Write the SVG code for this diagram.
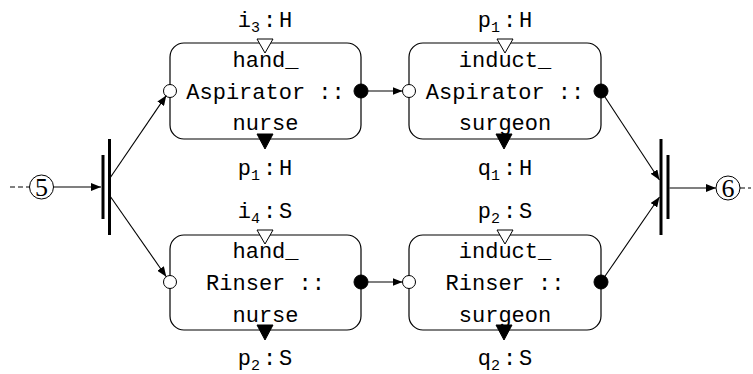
<svg xmlns="http://www.w3.org/2000/svg" width="753" height="374" viewBox="0 0 753 374">
  <defs>
    <style>
      .box { fill: #fff; stroke: #000; stroke-width: 1.2; }
      .tt { font-family: "Liberation Mono", "DejaVu Sans Mono", monospace; font-size: 22px; fill: #000; text-anchor: middle; }
      .sub { font-size: 15px; }
      .num { font-family: "Liberation Serif", "DejaVu Serif", serif; font-size: 26px; fill: #000; text-anchor: middle; }
      .edge { fill: none; stroke: #000; stroke-width: 1.1; }
      .dash { fill: none; stroke: #000; stroke-width: 1; stroke-dasharray: 5 3; }
      .bar { stroke: #000; stroke-width: 3; }
      .open { fill: #fff; stroke: #000; stroke-width: 1; }
      .solid { fill: #000; stroke: #000; stroke-width: 1; }
    </style>
    <marker id="arrow" viewBox="0 0 10 8" refX="10" refY="4" markerWidth="10" markerHeight="8" markerUnits="userSpaceOnUse" orient="auto">
      <path d="M0,0 L10,4 L0,8 z" fill="#000"/>
    </marker>
  </defs>

  <!-- start place 5 and fork -->
  <g id="place5">
    <line class="dash" x1="10" y1="187" x2="29" y2="187"/>
    <circle cx="41.5" cy="187" r="12" fill="#fff" stroke="#000" stroke-width="1"/>
    <text class="num" x="41.5" y="196">5</text>
  </g>
  <g id="fork">
    <line class="bar" x1="103" y1="155" x2="103" y2="219"/>
    <line class="bar" x1="109.5" y1="139" x2="109.5" y2="235"/>
  </g>

  <!-- hand_Aspirator :: nurse -->
  <g id="handAspirator">
    <text class="tt" x="265" y="27">i<tspan class="sub" dy="5">3</tspan><tspan dy="-5" dx="3">:</tspan><tspan dx="3">H</tspan></text>
    <rect class="box" x="170" y="43" width="191" height="96" rx="14"/>
    <text class="tt" x="265.5" y="67">hand_</text>
    <text class="tt" x="265.5" y="99">Aspirator ::</text>
    <text class="tt" x="265.5" y="130">nurse</text>
    <polygon class="open" points="257,39 273,39 265,53"/>
    <polygon class="solid" points="257,134 273,134 265,149"/>
    <circle class="open" cx="170" cy="91" r="6.5"/>
    <circle class="solid" cx="361" cy="91" r="7"/>
    <text class="tt" x="265" y="175">p<tspan class="sub" dy="5">1</tspan><tspan dy="-5" dx="3">:</tspan><tspan dx="3">H</tspan></text>
  </g>

  <!-- induct_Aspirator :: surgeon -->
  <g id="inductAspirator">
    <text class="tt" x="505" y="27">p<tspan class="sub" dy="5">1</tspan><tspan dy="-5" dx="3">:</tspan><tspan dx="3">H</tspan></text>
    <rect class="box" x="409" y="43" width="192" height="96" rx="14"/>
    <text class="tt" x="505" y="67">induct_</text>
    <text class="tt" x="505" y="99">Aspirator ::</text>
    <text class="tt" x="505" y="130">surgeon</text>
    <polygon class="open" points="497,39 513,39 505,53"/>
    <polygon class="solid" points="496,134 512,134 504,149"/>
    <circle class="open" cx="409" cy="91" r="6.5"/>
    <circle class="solid" cx="601" cy="91" r="7"/>
    <text class="tt" x="505" y="175">q<tspan class="sub" dy="5">1</tspan><tspan dy="-5" dx="3">:</tspan><tspan dx="3">H</tspan></text>
  </g>

  <!-- hand_Rinser :: nurse -->
  <g id="handRinser">
    <text class="tt" x="265" y="218">i<tspan class="sub" dy="5">4</tspan><tspan dy="-5" dx="3">:</tspan><tspan dx="3">S</tspan></text>
    <rect class="box" x="170" y="235" width="191" height="95" rx="14"/>
    <text class="tt" x="265.5" y="258">hand_</text>
    <text class="tt" x="265.5" y="290">Rinser ::</text>
    <text class="tt" x="265.5" y="322">nurse</text>
    <polygon class="open" points="257,230 273,230 265,244"/>
    <polygon class="solid" points="257,325 273,325 265,340"/>
    <circle class="open" cx="170" cy="282" r="6.5"/>
    <circle class="solid" cx="361" cy="282" r="7"/>
    <text class="tt" x="265" y="365">p<tspan class="sub" dy="5">2</tspan><tspan dy="-5" dx="3">:</tspan><tspan dx="3">S</tspan></text>
  </g>

  <!-- induct_Rinser :: surgeon -->
  <g id="inductRinser">
    <text class="tt" x="505" y="218">p<tspan class="sub" dy="5">2</tspan><tspan dy="-5" dx="3">:</tspan><tspan dx="3">S</tspan></text>
    <rect class="box" x="409" y="235" width="192" height="95" rx="14"/>
    <text class="tt" x="505" y="258">induct_</text>
    <text class="tt" x="505" y="290">Rinser ::</text>
    <text class="tt" x="505" y="322">surgeon</text>
    <polygon class="open" points="497,230 513,230 505,244"/>
    <polygon class="solid" points="496,325 512,325 504,340"/>
    <circle class="open" cx="409" cy="282" r="6.5"/>
    <circle class="solid" cx="601" cy="282" r="7"/>
    <text class="tt" x="505" y="365">q<tspan class="sub" dy="5">2</tspan><tspan dy="-5" dx="3">:</tspan><tspan dx="3">S</tspan></text>
  </g>

  <!-- join and end place 6 -->
  <g id="join">
    <line class="bar" x1="661" y1="139" x2="661" y2="235"/>
    <line class="bar" x1="668" y1="155" x2="668" y2="219"/>
  </g>
  <g id="place6">
    <circle cx="728" cy="188" r="12" fill="#fff" stroke="#000" stroke-width="1"/>
    <text class="num" x="728" y="197">6</text>
    <line class="dash" x1="740" y1="188" x2="751" y2="188"/>
  </g>

  <!-- connectors -->
  <g id="connectors">
    <line class="edge" x1="53.5" y1="187" x2="101" y2="187" marker-end="url(#arrow)"/>
    <line class="edge" x1="110" y1="178" x2="166.3" y2="95.4" marker-end="url(#arrow)"/>
    <line class="edge" x1="110" y1="196" x2="166.3" y2="276.7" marker-end="url(#arrow)"/>
    <line class="edge" x1="368" y1="91" x2="402.5" y2="91" marker-end="url(#arrow)"/>
    <line class="edge" x1="368" y1="282" x2="402.5" y2="282" marker-end="url(#arrow)"/>
    <line class="edge" x1="601" y1="91" x2="659.5" y2="180" marker-end="url(#arrow)"/>
    <line class="edge" x1="601" y1="282" x2="659.5" y2="197" marker-end="url(#arrow)"/>
    <line class="edge" x1="669.5" y1="188" x2="716" y2="188" marker-end="url(#arrow)"/>
  </g>
</svg>
